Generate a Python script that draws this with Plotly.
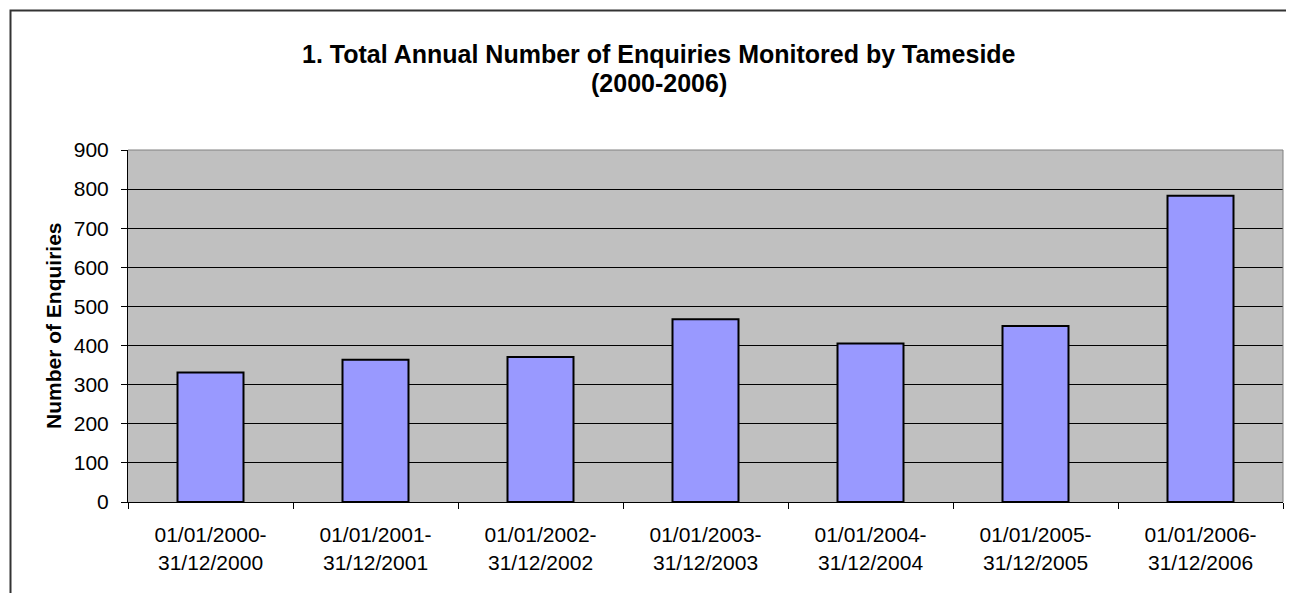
import plotly.graph_objects as go

categories = [
    "01/01/2000-<br>31/12/2000",
    "01/01/2001-<br>31/12/2001",
    "01/01/2002-<br>31/12/2002",
    "01/01/2003-<br>31/12/2003",
    "01/01/2004-<br>31/12/2004",
    "01/01/2005-<br>31/12/2005",
    "01/01/2006-<br>31/12/2006",
]
enquiries = [331, 364, 371, 467, 405, 450, 783]
y_ticks = [0, 100, 200, 300, 400, 500, 600, 700, 800, 900]
title_lines = ["1. Total Annual Number of Enquiries Monitored by Tameside", "(2000-2006)"]
y_title = "Number of Enquiries"

OFF = 8  # page body margin
PAGE_W, PAGE_H = 1294, 593
W, H = PAGE_W - OFF, PAGE_H - OFF
# desired page coordinates of the plot area
PL, PR, PT, PB = 128, 1283, 150, 502
L, T = PL - OFF, PT - OFF
R, B = W - (PR - OFF), H - (PB - OFF)
pw, ph = W - L - R, H - T - B

def px_x(p):  # page px -> paper x
    return (p - OFF - L) / pw

def px_y(p):  # page px -> paper y
    return (H - B - (p - OFF)) / ph

FONT = "Liberation Sans, Arial, sans-serif"

fig = go.Figure()
fig.add_trace(go.Bar(
    x=categories,
    y=enquiries,
    marker=dict(color="#9999FF", line=dict(color="#000000", width=2)),
    width=0.4,
    hoverinfo="x+y",
))

fig.update_layout(
    width=W, height=H,
    margin=dict(l=L, r=R, t=T, b=B, autoexpand=False),
    paper_bgcolor="white",
    plot_bgcolor="#C0C0C0",
    showlegend=False,
    font=dict(family=FONT, size=21, color="#000000"),
)

fig.update_xaxes(
    type="category",
    showgrid=False,
    showline=True, linecolor="#000000", linewidth=1,
    ticks="outside", tickson="boundaries", ticklen=6, tickcolor="#000000",
    tickfont=dict(family=FONT, size=21, color="#000000"),
    ticklabelstandoff=14,
    zeroline=False,
    fixedrange=True,
)
fig.update_yaxes(
    range=[0, 900],
    tickvals=y_ticks,
    showgrid=True, gridcolor="#000000", gridwidth=1,
    showline=True, linecolor="#000000", linewidth=1,
    ticks="outside", ticklen=6, tickcolor="#000000",
    ticklabelstandoff=8,
    tickfont=dict(family=FONT, size=21, color="#000000"),
    zeroline=False,
    fixedrange=True,
)

# plot-area border (gray) on top & right
fig.add_shape(type="line", xref="x domain", yref="y domain", x0=0, x1=1, y0=1, y1=1,
              line=dict(color="#808080", width=1), layer="above")
fig.add_shape(type="line", xref="x domain", yref="y domain", x0=1, x1=1, y0=0, y1=1,
              line=dict(color="#808080", width=1), layer="above")

# outer chart border
fig.add_shape(type="rect", xref="paper", yref="paper",
              x0=px_x(10.5), x1=px_x(PAGE_W + 40), y0=px_y(PAGE_H + 40), y1=px_y(10.5),
              line=dict(color="#333333", width=2), fillcolor="rgba(0,0,0,0)", layer="below")

# title (two lines)
for txt, yc in zip(title_lines, [54, 83]):
    fig.add_annotation(
        text="<b>" + txt + "</b>",
        xref="paper", yref="paper",
        x=px_x(659), y=px_y(yc), xanchor="center", yanchor="middle",
        showarrow=False,
        font=dict(family=FONT, size=25, color="#000000"),
    )

# y-axis title
fig.add_annotation(
    text="<b>" + y_title + "</b>",
    xref="paper", yref="paper",
    x=px_x(53), y=0.5, xanchor="center", yanchor="middle",
    textangle=-90, showarrow=False,
    font=dict(family=FONT, size=21, color="#000000"),
)

fig.write_html("out.html")
